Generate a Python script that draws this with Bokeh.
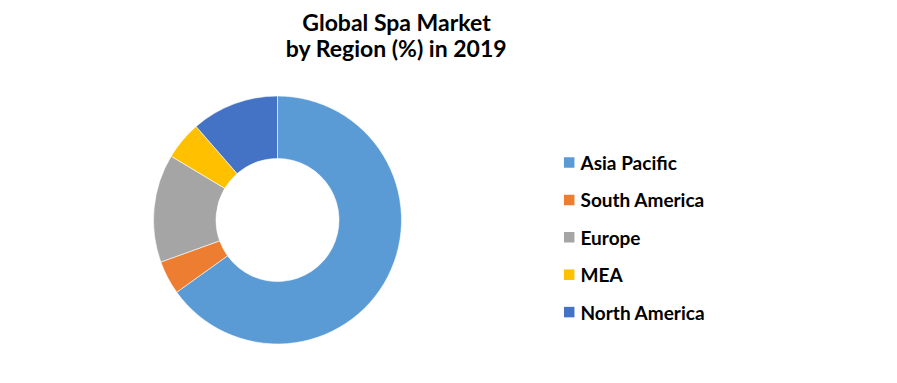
import math

from bokeh.core.properties import value
from bokeh.embed import file_html
from bokeh.models import ColumnDataSource, Range1d
from bokeh.plotting import figure
from bokeh.resources import INLINE

# Market share by region (%), 2019
regions = ["Asia Pacific", "South America", "Europe", "MEA", "North America"]
shares = [65.1, 4.4, 14.1, 5.0, 11.4]
colors = ["#5B9BD5", "#ED7D31", "#A5A5A5", "#FFC000", "#4472C4"]
title_lines = ["Global Spa Market", "by Region (%) in 2019"]

W, H = 897, 383
FONT = "Lato"


def sy(y):
    """Convert a top-down pixel row to the plot's bottom-up y coordinate."""
    return H - y


p = figure(width=W, height=H, output_backend="svg", toolbar_location=None,
           x_range=Range1d(0, W), y_range=Range1d(0, H), min_border=0)
p.axis.visible = False
p.grid.visible = False
p.outline_line_color = None
p.background_fill_color = "white"
p.border_fill_color = "white"

# Donut slices: clockwise from 12 o'clock
total = sum(shares)
starts, ends = [], []
acc = 0.0
for s in shares:
    a0 = acc / total * 2 * math.pi
    acc += s
    a1 = acc / total * 2 * math.pi
    starts.append(math.pi / 2 - a1)
    ends.append(math.pi / 2 - a0)

cx, cy = 277, sy(219.5)
donut = ColumnDataSource(dict(start=starts, end=ends, color=colors, region=regions))
p.annular_wedge(x=cx, y=cy, inner_radius=61.5, outer_radius=124,
                start_angle="start", end_angle="end", direction="anticlock",
                fill_color="color", line_color="white", line_width=0.6,
                source=donut)

# Title
p.text(x=[396, 396], y=[sy(21), sy(47)], text=title_lines,
       text_font=value(FONT), text_font_style="bold", text_font_size="23px",
       text_align="center", text_baseline="middle", text_color="#000000")

# Legend
row_gap = 37.4
legend_top = 162
sq_y = [sy(legend_top + i * row_gap) for i in range(len(regions))]
p.rect(x=[568.7] * len(regions), y=sq_y, width=10.5, height=10.5,
       fill_color=colors, line_color=None)
p.text(x=[580] * len(regions), y=sq_y, text=regions,
       text_font=value(FONT), text_font_style="bold", text_font_size="19px",
       text_align="left", text_baseline="middle", text_color="#000000")

open("out.html", "w").write(file_html(p, INLINE))
